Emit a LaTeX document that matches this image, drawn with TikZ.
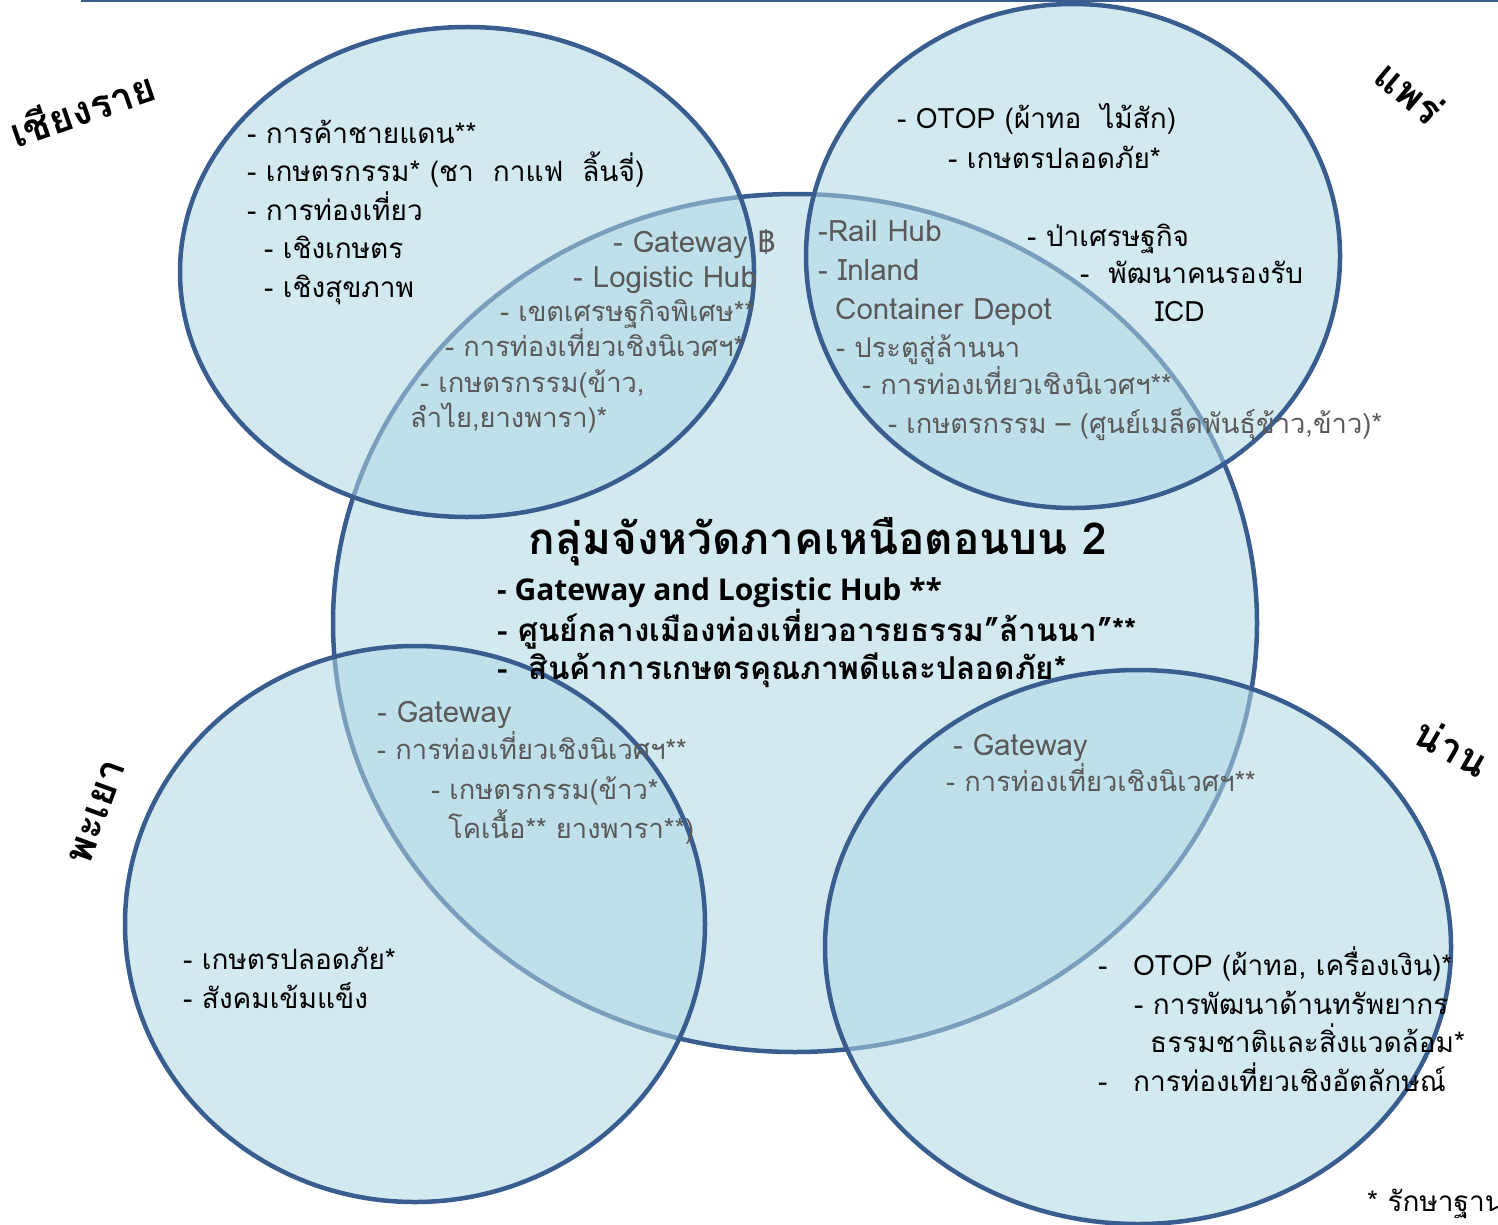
\documentclass[tikz,border=0pt]{standalone}
\usepackage{fontspec}
\setmainfont{Loma}[Script=Thai]
\newfontfamily\latin{Open Sans}
\usetikzlibrary{positioning}

\definecolor{zonefill}{RGB}{175,215,228}
\definecolor{zoneline}{RGB}{58,93,143}
\definecolor{greytext}{RGB}{89,89,89}

\begin{document}
\begin{tikzpicture}[x=1pt,y=-1pt,
    zone/.style={draw=zoneline, line width=4.5pt, fill=zonefill, fill opacity=0.55},
    txt/.style={anchor=base west, inner sep=0pt, align=left, font=\fontsize{28}{38.5}\selectfont},
    ghost/.style={txt, text=greytext, font=\fontsize{27.3}{38}\selectfont},
    bigghost/.style={ghost, font=\fontsize{29.5}{38}\selectfont},
    head/.style={anchor=base west, inner sep=0pt, align=left, font=\fontsize{31.5}{37.5}\selectfont\bfseries},
    province/.style={inner sep=0pt, font=\fontsize{40}{44}\selectfont\bfseries}]

    \useasboundingbox (0,0) rectangle (1498,1225);
    \coordinate (rule west) at (81,1);
    \coordinate (rule east) at (1498,1);
    \draw[zoneline, line width=2pt] (rule west) -- (rule east);

    % group area first, provinces over it
    \draw[zone] (795,623) ellipse [x radius=462pt, y radius=429pt];
    \draw[zone] (467,272) ellipse [x radius=287pt, y radius=245pt];
    \draw[zone] (1073,256) ellipse [x radius=267pt, y radius=252pt];
    \draw[zone] (415,924) ellipse [x radius=290pt, y radius=278pt];
    \draw[zone] (1138,947) ellipse [x radius=313pt, y radius=277pt];

    % province names
    \node[province, rotate=19] (chiangrai) at (82,108) {เชียงราย};
    \node[province, rotate=-40] (phrae) at (1410,92) {แพร่};
    \node[province, rotate=70] (phayao) at (97,812) {พะเยา};
    \node[province, rotate=-30] (nan) at (1452,747) {น่าน};

    % Chiang Rai (base = last line)
    \node[txt] (cr list) at (247,297) {- การค้าชายแดน**\\- เกษตรกรรม* (ชา\ \ กาแฟ\ \ ลิ้นจี่)\\- การท่องเที่ยว\\\hspace*{17pt}- เชิงเกษตร\\\hspace*{17pt}- เชิงสุขภาพ};
    \node[bigghost] (cr gate) at (613,252) {- Gateway ฿};
    \node[bigghost] (cr hub) at (573,287) {- Logistic Hub};
    \node[ghost] (cr sez) at (500,321) {- เขตเศรษฐกิจพิเศษ**};
    \node[ghost] (cr eco) at (445,356) {- การท่องเที่ยวเชิงนิเวศฯ*};
    \node[ghost] (cr farm) at (420,392) {- เกษตรกรรม(ข้าว,};
    \node[ghost] (cr farm2) at (410,427) {ลำไย,ยางพารา)*};

    % Phrae
    \node[txt] (ph otop) at (897,129) {- OTOP (ผ้าทอ\ \ ไม้สัก)};
    \node[txt] (ph safe) at (948,168) {- เกษตรปลอดภัย*};
    \node[txt] (ph forest) at (1027,246) {- ป่าเศรษฐกิจ};
    \node[txt] (ph people) at (1080,283) {-\ \ พัฒนาคนรองรับ};
    \node[txt] (ph icd) at (1155,321) {ICD};
    \node[bigghost] (ph rail) at (818,241) {-Rail Hub};
    \node[bigghost] (ph inland) at (818,280) {- Inland};
    \node[bigghost] (ph depot) at (835,319) {Container Depot};
    \node[ghost] (ph gate) at (836,357) {- ประตูสู่ล้านนา};
    \node[ghost] (ph eco) at (862,394) {- การท่องเที่ยวเชิงนิเวศฯ**};
    \node[ghost] (ph farm) at (888,433) {- เกษตรกรรม – (ศูนย์เมล็ดพันธุ์ข้าว,ข้าว)*};

    % group (base = last line)
    \node[anchor=base, inner sep=0pt, font=\fontsize{44}{48}\selectfont\bfseries] (group) at (818,554) {กลุ่มจังหวัดภาคเหนือตอนบน 2};
    \node[head] (group list) at (497,679) {{\latin\fontsize{30}{37.5}\selectfont\bfseries - Gateway and Logistic Hub **}\\- ศูนย์กลางเมืองท่องเที่ยวอารยธรรม”ล้านนา”**\\-\ \ สินค้าการเกษตรคุณภาพดีและปลอดภัย*};

    % Phayao
    \node[bigghost] (py gate) at (377,722) {- Gateway};
    \node[ghost] (py eco) at (377,759) {- การท่องเที่ยวเชิงนิเวศฯ**};
    \node[ghost] (py farm) at (431,799) {- เกษตรกรรม(ข้าว*};
    \node[ghost] (py farm2) at (448,838) {โคเนื้อ** ยางพารา**)};
    \node[txt] (py list) at (183,1008) {- เกษตรปลอดภัย*\\- สังคมเข้มแข็ง};

    % Nan
    \node[bigghost] (nan gate) at (953,755) {- Gateway};
    \node[ghost] (nan eco) at (946,791) {- การท่องเที่ยวเชิงนิเวศฯ**};
    \node[txt] (nan otop) at (1098,975) {\makebox[35pt][l]{-}OTOP (ผ้าทอ, เครื่องเงิน)*};
    \node[txt] (nan res) at (1134,1014) {- การพัฒนาด้านทรัพยากร};
    \node[txt] (nan res2) at (1150,1052) {ธรรมชาติและสิ่งแวดล้อม*};
    \node[txt] (nan tour) at (1098,1091) {\makebox[35pt][l]{-}การท่องเที่ยวเชิงอัตลักษณ์};

    \node[txt] (note) at (1367,1211) {* รักษาฐาน};
\end{tikzpicture}
\end{document}
